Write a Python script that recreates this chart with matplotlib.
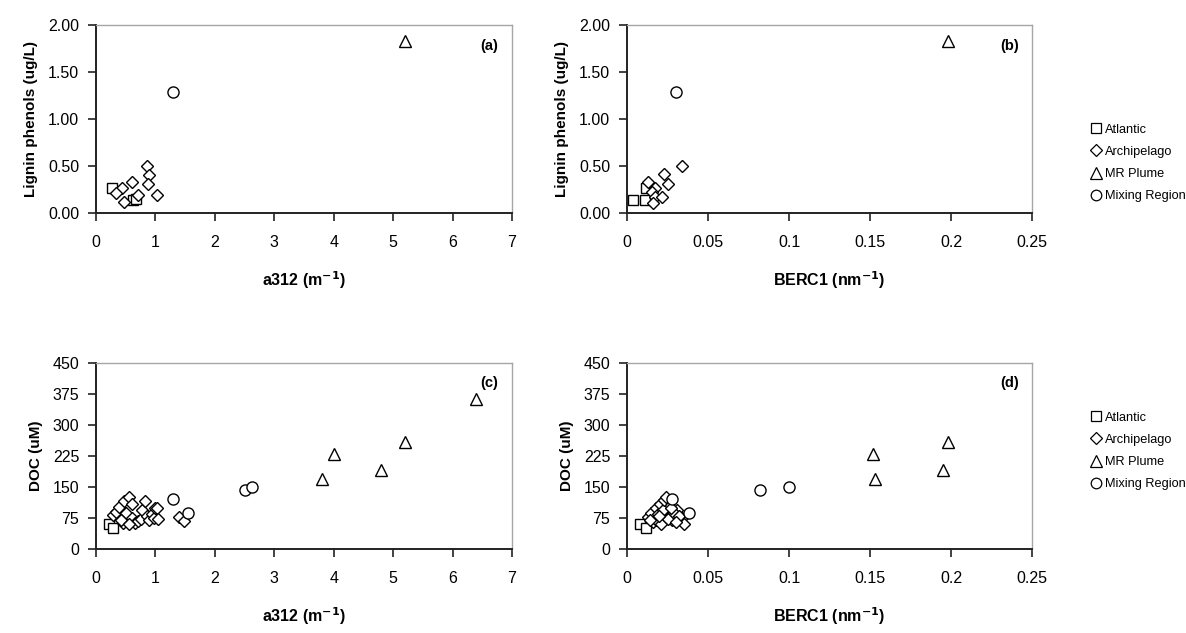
import matplotlib
matplotlib.use("Agg")
import matplotlib.pyplot as plt
from matplotlib.lines import Line2D

plt.rcParams['font.family'] = ['Liberation Sans', 'DejaVu Sans']

# ---------------- data ----------------
# Panel (a): lignin phenols vs a312
a_atl_x = [0.27, 0.62, 0.68]
a_atl_y = [0.27, 0.14, 0.15]
a_arc_x = [0.43, 0.33, 0.61, 0.47, 0.85, 0.89, 0.88, 0.71, 1.03]
a_arc_y = [0.27, 0.21, 0.33, 0.115, 0.50, 0.40, 0.31, 0.19, 0.19]
a_mrp_x = [5.2]
a_mrp_y = [1.83]
a_mix_x = [1.3]
a_mix_y = [1.29]

# Panel (b): lignin phenols vs BERC1
b_atl_x = [0.012, 0.004, 0.011]
b_atl_y = [0.27, 0.14, 0.14]
b_arc_x = [0.013, 0.0175, 0.0155, 0.017, 0.016, 0.0215, 0.023, 0.025, 0.034]
b_arc_y = [0.33, 0.27, 0.22, 0.17, 0.11, 0.17, 0.41, 0.31, 0.50]
b_mrp_x = [0.198]
b_mrp_y = [1.83]
b_mix_x = [0.030]
b_mix_y = [1.29]

# Panel (c): DOC vs a312
c_atl_x = [0.22, 0.28]
c_atl_y = [60, 52]
c_arc_x = [0.28, 0.33, 0.39, 0.45, 0.47, 0.50, 0.55, 0.60, 0.61, 0.65, 0.70, 0.75,
           0.78, 0.83, 0.85, 0.90, 0.95, 0.98, 1.00, 1.03, 1.05, 1.40, 1.48, 0.42, 0.55]
c_arc_y = [82, 90, 102, 62, 115, 86, 127, 110, 74, 62, 68, 72,
           94, 116, 80, 70, 85, 74, 100, 98, 72, 78, 68, 70, 60]
c_mrp_x = [3.8, 4.0, 4.8, 5.2, 6.4]
c_mrp_y = [170, 230, 190, 258, 362]
c_mix_x = [1.3, 1.55, 2.5, 2.63]
c_mix_y = [120, 87, 143, 150]

# Panel (d): DOC vs BERC1
d_atl_x = [0.008, 0.012]
d_atl_y = [60, 52]
d_arc_x = [0.013, 0.015, 0.0177, 0.019, 0.0205, 0.022, 0.023, 0.024, 0.0265, 0.028,
           0.031, 0.034, 0.035, 0.016, 0.018, 0.021, 0.025, 0.029, 0.032, 0.014,
           0.020, 0.027, 0.030]
d_arc_y = [77, 88, 99, 85, 110, 94, 118, 125, 81, 69,
           94, 75, 61, 65, 70, 60, 72, 88, 80, 70,
           80, 100, 65]
d_mrp_x = [0.152, 0.153, 0.195, 0.198]
d_mrp_y = [230, 170, 190, 258]
d_mix_x = [0.028, 0.038, 0.082, 0.10]
d_mix_y = [120, 87, 143, 150]

series_names = ["Atlantic", "Archipelago", "MR Plume", "Mixing Region"]
series_markers = ["s", "D", "^", "o"]
series_sizes = [7.5, 6.3, 8.5, 8.0]

lig_ticks = [0.0, 0.5, 1.0, 1.5, 2.0]
lig_ticklabels = ["0.00", "0.50", "1.00", "1.50", "2.00"]
doc_ticks = [0, 75, 150, 225, 300, 375, 450]
a312_ticks = [0, 1, 2, 3, 4, 5, 6, 7]
berc_ticks = [0, 0.05, 0.1, 0.15, 0.2, 0.25]
berc_ticklabels = ["0", "0.05", "0.1", "0.15", "0.2", "0.25"]

# ---------------- figure ----------------
W, H = 1186, 633
fig = plt.figure(figsize=(W / 100, H / 100), dpi=100)

def rect(l, r, t, b):
    return [l / W, 1 - b / H, (r - l) / W, (b - t) / H]

ax_a = fig.add_axes(rect(96, 512, 25, 213))
ax_b = fig.add_axes(rect(627, 1032, 25, 213))
ax_c = fig.add_axes(rect(96, 512, 363, 549))
ax_d = fig.add_axes(rect(627, 1032, 363, 549))

def style(ax):
    for s in ["left", "bottom"]:
        ax.spines[s].set_color("#222222")
        ax.spines[s].set_linewidth(1.4)
    for s in ["top", "right"]:
        ax.spines[s].set_color("#a6a6a6")
        ax.spines[s].set_linewidth(1.0)
    ax.tick_params(direction="out", length=6, width=1.2, labelsize=11.5,
                   top=False, right=False, color="#222222", pad=6)
    ax.tick_params(axis="x", pad=10)

def plot_series(ax, xs, ys):
    for x, y, m, ms in zip(xs, ys, series_markers, series_sizes):
        ax.plot(x, y, linestyle="none", marker=m, ms=ms, mfc="white",
                mec="black", mew=1.0, clip_on=False)

plot_series(ax_a, [a_atl_x, a_arc_x, a_mrp_x, a_mix_x], [a_atl_y, a_arc_y, a_mrp_y, a_mix_y])
plot_series(ax_b, [b_atl_x, b_arc_x, b_mrp_x, b_mix_x], [b_atl_y, b_arc_y, b_mrp_y, b_mix_y])
plot_series(ax_c, [c_atl_x, c_arc_x, c_mrp_x, c_mix_x], [c_atl_y, c_arc_y, c_mrp_y, c_mix_y])
plot_series(ax_d, [d_atl_x, d_arc_x, d_mrp_x, d_mix_x], [d_atl_y, d_arc_y, d_mrp_y, d_mix_y])

for ax in (ax_a, ax_c):
    ax.set_xlim(0, 7)
    ax.set_xticks(a312_ticks)
    ax.set_xlabel("a312 (m$^{\\mathbf{-1}}$)", fontsize=11.5, fontweight="bold", labelpad=14)
for ax in (ax_b, ax_d):
    ax.set_xlim(0, 0.25)
    ax.set_xticks(berc_ticks)
    ax.set_xticklabels(berc_ticklabels)
    ax.set_xlabel("BERC1 (nm$^{\\mathbf{-1}}$)", fontsize=11.5, fontweight="bold", labelpad=14)
for ax in (ax_a, ax_b):
    ax.set_ylim(0, 2.0)
    ax.set_yticks(lig_ticks)
    ax.set_yticklabels(lig_ticklabels)
    ax.set_ylabel("Lignin phenols (ug/L)", fontsize=11, fontweight="bold", labelpad=7)
for ax in (ax_c, ax_d):
    ax.set_ylim(0, 450)
    ax.set_yticks(doc_ticks)
    ax.set_ylabel("DOC (uM)", fontsize=11, fontweight="bold", labelpad=7)

for ax, lab in zip((ax_a, ax_b, ax_c, ax_d), ["(a)", "(b)", "(c)", "(d)"]):
    style(ax)
    ax.text(0.945, 0.89, lab, transform=ax.transAxes, ha="center", va="center",
            fontsize=10.5, fontweight="bold")

handles = [Line2D([], [], linestyle="none", marker=m, ms=ms * 0.95,
                  mfc="white", mec="black", mew=0.9)
           for m, ms in zip(series_markers, series_sizes)]
for yc in (163, 451):
    fig.legend(handles, series_names, loc="center left",
               bbox_to_anchor=(1090 / W, 1 - yc / H), frameon=False,
               fontsize=9.2, handletextpad=0.25, handlelength=0.9,
               labelspacing=0.8, borderaxespad=0, borderpad=0)

fig.savefig("out.png", dpi=100)
